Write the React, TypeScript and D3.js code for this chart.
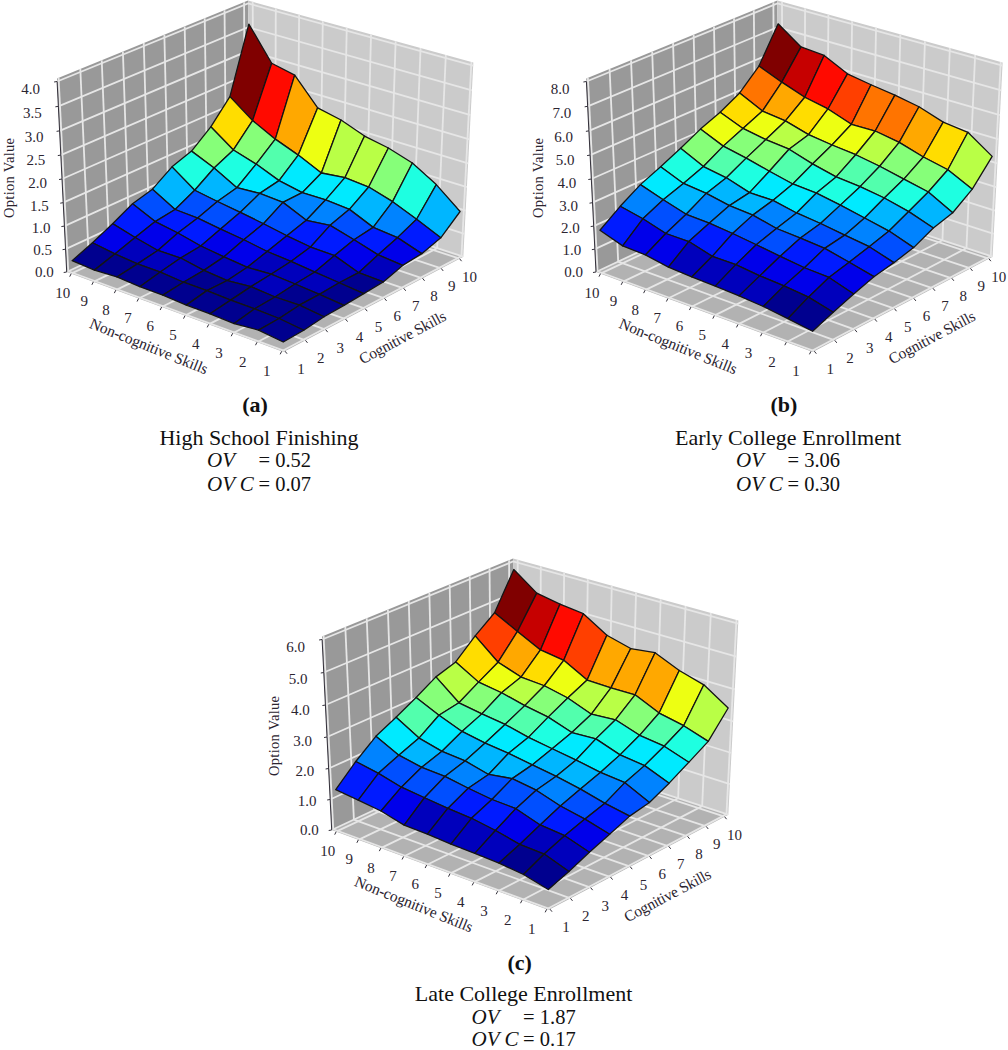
import React from "react";
import * as d3 from "d3";

// rows: cognitive 1..10, columns: non-cognitive 10..1
const nonTicks = [10, 9, 8, 7, 6, 5, 4, 3, 2, 1];
const cogTicks = [1, 2, 3, 4, 5, 6, 7, 8, 9, 10];

const highSchool = [
  [0.27, 0.24, 0.27, 0.24, 0.24, 0.21, 0.21, 0.19, 0.24, 0.18],
  [0.45, 0.38, 0.34, 0.34, 0.3, 0.3, 0.28, 0.28, 0.26, 0.2],
  [0.66, 0.53, 0.42, 0.43, 0.34, 0.3, 0.35, 0.31, 0.32, 0.26],
  [0.89, 0.67, 0.59, 0.48, 0.42, 0.37, 0.4, 0.37, 0.33, 0.28],
  [1.01, 0.73, 0.71, 0.64, 0.58, 0.5, 0.46, 0.41, 0.36, 0.31],
  [1.3, 0.95, 0.87, 0.8, 0.72, 0.63, 0.56, 0.55, 0.36, 0.34],
  [1.45, 1.24, 0.97, 1.01, 0.98, 0.76, 0.82, 0.68, 0.53, 0.48],
  [1.79, 1.44, 1.29, 1.09, 0.99, 1.0, 0.96, 0.74, 0.69, 0.52],
  [2.26, 1.89, 1.64, 1.45, 1.22, 1.28, 1.24, 1.09, 0.88, 0.65],
  [3.63, 2.94, 2.83, 2.28, 2.17, 1.98, 1.88, 1.72, 1.42, 1.01],
];

const earlyCollege = [
  [1.86, 1.53, 1.49, 1.32, 1.26, 1.23, 1.18, 1.1, 0.96, 0.81],
  [2.48, 2.28, 1.99, 1.99, 1.71, 1.71, 1.59, 1.53, 1.42, 1.16],
  [3.01, 2.69, 2.4, 2.36, 2.26, 2.13, 1.99, 1.86, 1.81, 1.48],
  [3.38, 2.99, 2.89, 2.7, 2.63, 2.4, 2.34, 2.25, 2.02, 1.77],
  [3.79, 3.32, 3.16, 2.85, 2.85, 2.65, 2.54, 2.39, 2.25, 1.93],
  [4.23, 3.81, 3.61, 3.37, 3.15, 3.09, 2.91, 2.7, 2.49, 2.14],
  [4.58, 4.19, 4.02, 3.92, 3.61, 3.38, 3.29, 3.14, 2.9, 2.55],
  [5.04, 4.56, 4.44, 4.16, 4.03, 3.93, 3.76, 3.54, 3.32, 2.78],
  [5.83, 5.43, 5.08, 4.88, 4.53, 4.55, 4.38, 4.08, 3.86, 3.37],
  [7.27, 6.57, 6.49, 6.0, 5.83, 5.69, 5.5, 5.16, 5.04, 4.35],
];

const lateCollege = [
  [1.35, 1.27, 1.18, 0.99, 0.97, 0.92, 0.9, 0.87, 0.79, 0.6],
  [1.95, 1.82, 1.63, 1.55, 1.47, 1.42, 1.3, 1.13, 1.1, 0.83],
  [2.46, 2.1, 1.96, 1.92, 1.8, 1.7, 1.67, 1.42, 1.35, 1.1],
  [2.78, 2.35, 2.17, 2.11, 1.93, 2.05, 1.94, 1.7, 1.55, 1.34],
  [3.12, 2.79, 2.51, 2.38, 2.3, 2.18, 2.07, 1.92, 1.73, 1.59],
  [3.5, 2.9, 2.78, 2.68, 2.51, 2.39, 2.28, 2.14, 2.07, 1.7],
  [3.7, 3.28, 3.17, 2.99, 2.86, 2.61, 2.65, 2.39, 2.3, 2.0],
  [4.26, 3.64, 3.39, 3.34, 3.18, 2.9, 2.96, 2.71, 2.61, 2.35],
  [4.73, 4.35, 3.98, 3.87, 3.47, 3.45, 3.46, 3.12, 2.96, 2.71],
  [5.84, 5.3, 5.16, 5.07, 4.61, 4.41, 4.5, 4.17, 3.95, 3.46],
];

const highSchoolZ = [0, 0.5, 1, 1.5, 2, 2.5, 3, 3.5, 4];
const earlyZ = [0, 1, 2, 3, 4, 5, 6, 7, 8];
const lateZ = [0, 1, 2, 3, 4, 5, 6];

const panels = [
  { values: highSchool, zTicks: highSchoolZ, dx: 0, dy: 0, letter: "(a)", title: "High School Finishing", ov: "0.52", ovc: "0.07", capX: 259, letterY: 412, titleY: 445, ovY: 467, lastY: 491 },
  { values: earlyCollege, zTicks: earlyZ, dx: 529.3, dy: 0, letter: "(b)", title: "Early College Enrollment", ov: "3.06", ovc: "0.30", capX: 788, letterY: 412, titleY: 445, ovY: 467, lastY: 491 },
  // the last line sits right on the bottom edge of the page
  { values: lateCollege, zTicks: lateZ, dx: 265, dy: 558, letter: "(c)", title: "Late College Enrollment", ov: "1.87", ovc: "0.17", capX: 523.6, letterY: 970, titleY: 1001, ovY: 1023.5, lastY: 1045.5 },
];

// perspective box: images of the front, right and left floor corners,
// their depth weights and the vertical vanishing point
const F = [283.5, 352];
const R = [463.3, 256.7];
const L = [66.7, 272];
const wR = 1.064;
const wL = 1.0635;
const kZ = -0.0498;
const VZ = [262, 4150];

const project = (u: number, v: number, w: number): [number, number] => {
  const h = 1 + (wR - 1) * u + (wL - 1) * v + kZ * w;
  const x = F[0] + (wR * R[0] - F[0]) * u + (wL * L[0] - F[0]) * v + kZ * VZ[0] * w;
  const y = F[1] + (wR * R[1] - F[1]) * u + (wL * L[1] - F[1]) * v + kZ * VZ[1] * w;
  return [x / h, y / h];
};

const uScale = d3.scaleLinear([1, 10], [0.008, 0.978]);
const vScale = d3.scaleLinear([1, 10], [0.008, 0.978]);

const jet = d3
  .scaleLinear<string>()
  .domain([0, 0.13, 0.39, 0.65, 0.905, 1])
  .range(["#00008f", "#0000ff", "#00ffff", "#ffff00", "#ff0000", "#800000"]);

const poly = d3.line();
const serif = "'Liberation Serif', serif";
const ink = "#2b2430";

const Surface = ({ panel }: { panel: (typeof panels)[number] }) => {
  const zMax = d3.max(panel.zTicks) as number;
  const wScale = d3.scaleLinear([0, zMax], [0, 1]);
  const top = 1.015;

  const cells: { pts: [number, number][]; mean: number }[] = [];
  for (let i = 8; i >= 0; i--) {
    for (let c = 0; c < 9; c++) {
      const corners = [
        [i, c],
        [i + 1, c],
        [i + 1, c + 1],
        [i, c + 1],
      ];
      cells.push({
        pts: corners.map(([a, b]) =>
          project(uScale(cogTicks[a]), vScale(nonTicks[b]), wScale(panel.values[a][b]))
        ),
        mean: d3.mean(corners, ([a, b]) => panel.values[a][b]) as number,
      });
    }
  }
  const color = d3
    .scaleQuantize<string>()
    .domain(d3.extent(cells, (d) => d.mean) as [number, number])
    .range(d3.quantize((t) => jet(t), 20));

  const leftWall = [project(0, 1, 0), project(1, 1, 0), project(1, 1, top), project(0, 1, top)];
  const rightWall = [project(1, 0, 0), project(1, 1, 0), project(1, 1, top), project(1, 0, top)];
  const floor = [project(0, 0, 0), project(1, 0, 0), project(1, 1, 0), project(0, 1, 0)];

  const gridStroke = "#e6e6e6";
  const labelY = d3.scaleLinear([0, zMax], [2, 9]);
  const labelX = d3.scaleLinear([0, zMax], [-13, -17]);

  return (
    <g transform={`translate(${panel.dx},${panel.dy})`}>
      <path d={poly(leftWall) + "Z"} fill="#999999" />
      <path d={poly(rightWall) + "Z"} fill="#cbcbcb" />
      <path d={poly(floor) + "Z"} fill="#b2b2b2" />

      <g stroke={gridStroke} strokeWidth={1.8} fill="none">
        {cogTicks.map((t) => (
          <React.Fragment key={t}>
            <path d={poly([project(uScale(t), 1, 0), project(uScale(t), 1, top)]) as string} />
            <path d={poly([project(uScale(t), 0, 0), project(uScale(t), 1, 0)]) as string} />
          </React.Fragment>
        ))}
        {nonTicks.map((t) => (
          <React.Fragment key={t}>
            <path d={poly([project(1, vScale(t), 0), project(1, vScale(t), top)]) as string} />
            <path d={poly([project(0, vScale(t), 0), project(1, vScale(t), 0)]) as string} />
          </React.Fragment>
        ))}
        {panel.zTicks.map((t) => (
          <path
            key={t}
            d={poly([project(0, 1, wScale(t)), project(1, 1, wScale(t)), project(1, 0, wScale(t))]) as string}
          />
        ))}
      </g>

      {/* axes */}
      <g stroke="#33303a" strokeWidth={1} fill="none">
        <path d={poly([project(0, 1, 0), project(0, 1, 1)]) as string} />
        {panel.zTicks.map((t) => {
          const [x, y] = project(0, 1, wScale(t));
          return <path key={t} d={`M${x - 3},${y + 0.5}L${x},${y}`} />;
        })}
        {nonTicks.map((t) => {
          const [x, y] = project(0, vScale(t), 0);
          return <path key={t} d={`M${x},${y}L${x - 1.5},${y + 3}`} />;
        })}
        {cogTicks.map((t) => {
          const [x, y] = project(uScale(t), 0, 0);
          return <path key={t} d={`M${x},${y}L${x + 2},${y + 2.5}`} />;
        })}
      </g>

      {/* surface, far cells first */}
      {cells.map((d, n) => (
        <path key={n} d={poly(d.pts) + "Z"} fill={color(d.mean)} stroke="#141414" strokeWidth={1.3} strokeLinejoin="round" />
      ))}

      <g fontFamily={serif} fontSize={15} fill={ink}>
        {panel.zTicks.map((t) => {
          const [x, y] = project(0, 1, wScale(t));
          return (
            <text key={t} x={x + labelX(t)} y={y + labelY(t)} textAnchor="end" dominantBaseline="middle">
              {t.toFixed(1)}
            </text>
          );
        })}
        {nonTicks.map((t) => {
          const [x, y] = project(0, vScale(t), 0);
          const off = d3.scaleLinear([1, 10], [-15, -8.5]);
          return (
            <text key={t} x={x + off(t)} y={y + 21} textAnchor="middle" dominantBaseline="middle">
              {t}
            </text>
          );
        })}
        {cogTicks.map((t) => {
          const [x, y] = project(uScale(t), 0, 0);
          const off = d3.scaleLinear([1, 10], [16, 10]);
          return (
            <text key={t} x={x + off(t)} y={y + 19.5} textAnchor="middle" dominantBaseline="middle">
              {t}
            </text>
          );
        })}
      </g>

      <g fontFamily={serif} fontSize={15.5} fill={ink} textAnchor="middle">
        <text transform="translate(13.5,178) rotate(-90)" textLength={80} fontSize={14.5}>
          Option Value
        </text>
        <text transform="translate(147,351) rotate(22)" textLength={126}>
          Non-cognitive Skills
        </text>
        <text transform="translate(405,342) rotate(-28)" textLength={96}>
          Cognitive Skills
        </text>
      </g>
    </g>
  );
};

const Caption = ({ panel }: { panel: (typeof panels)[number] }) => {
  const cx = panel.capX;
  const left = cx - 52;
  const eq = cx - 0.5;
  return (
    <g fontFamily={serif} fontSize={20.5} fill="#111">
      <text x={cx - 4} y={panel.letterY} textAnchor="middle" fontWeight="bold" fontSize={22}>
        {panel.letter}
      </text>
      <text x={cx} y={panel.titleY} textAnchor="middle" fontSize={22}>
        {panel.title}
      </text>
      <text x={left} y={panel.ovY} fontStyle="italic" fontSize={21}>
        OV
      </text>
      <text x={eq} y={panel.ovY}>
        = {panel.ov}
      </text>
      <text x={left} y={panel.lastY} fontStyle="italic" fontSize={21}>
        OV C
      </text>
      <text x={eq} y={panel.lastY}>
        = {panel.ovc}
      </text>
    </g>
  );
};

export default function App() {
  return (
    <svg
      width={1008}
      height={1050}
      viewBox="0 0 1008 1050"
      style={{ position: "absolute", left: 0, top: 0, background: "#fff" }}
    >
      {panels.map((p) => (
        <g key={p.letter}>
          <Surface panel={p} />
          <Caption panel={p} />
        </g>
      ))}
    </svg>
  );
}
